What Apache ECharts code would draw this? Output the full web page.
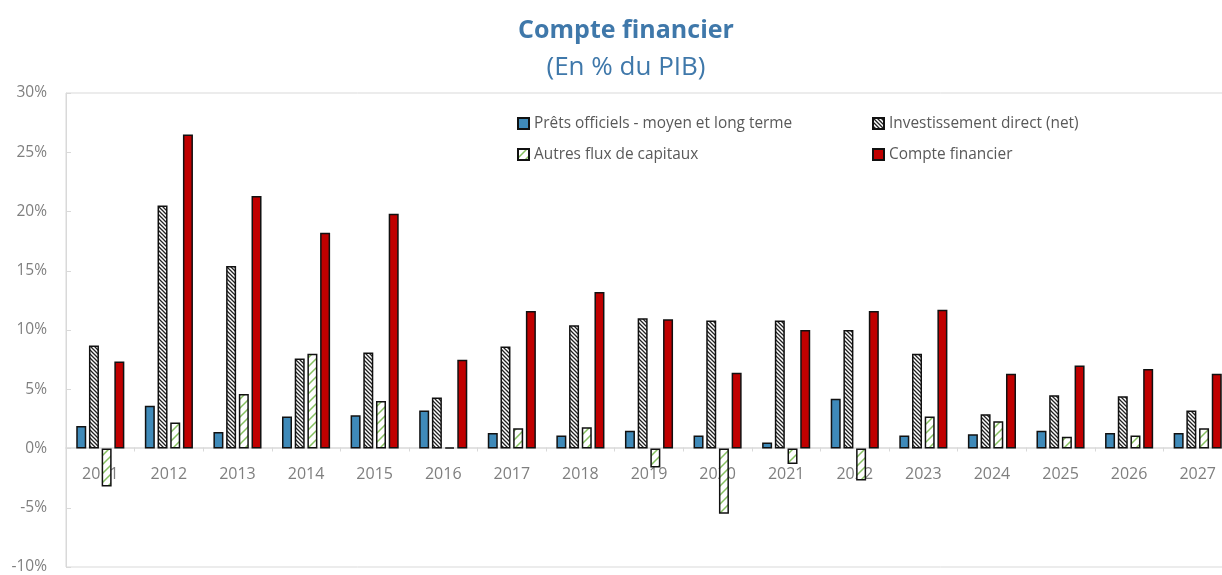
<!DOCTYPE html>
<html>
<head>
<meta charset="utf-8">
<script src="https://cdn.jsdelivr.net/npm/echarts@6/dist/echarts.min.js"></script>
<style>
html,body{margin:0;padding:0;overflow:hidden;background:#fff;}
#c{width:1232px;height:575px;}
</style>
</head>
<body>
<div id="c"></div>
<script>
var years = ['2011','2012','2013','2014','2015','2016','2017','2018','2019','2020','2021','2022','2023','2024','2025','2026','2027'];
var pretsOfficiels = [1.9,3.6,1.4,2.7,2.8,3.2,1.3,1.1,1.5,1.1,0.5,4.2,1.1,1.2,1.5,1.3,1.3];
var investDirect = [8.7,20.5,15.4,7.6,8.1,4.3,8.6,10.4,11.0,10.8,10.8,10.0,8.0,2.9,4.5,4.4,3.2];
var autresFlux = [-3.2,2.2,4.6,8.0,4.0,0.1,1.7,1.8,-1.6,-5.5,-1.3,-2.7,2.7,2.3,1.0,1.1,1.7];
var compteFinancier = [7.35,26.5,21.3,18.2,19.8,7.5,11.6,13.2,10.9,6.4,10.0,11.6,11.7,6.3,7.0,6.7,6.3];
var yTicks = {min:-10, max:30, interval:5};
var seriesNames = ['Prêts officiels - moyen et long terme','Investissement direct (net)','Autres flux de capitaux','Compte financier'];

function hatch(size, color, lw, dir, bg){
  var c = document.createElement('canvas');
  c.width = size; c.height = size;
  var g = c.getContext('2d');
  g.fillStyle = bg; g.fillRect(0,0,size,size);
  g.strokeStyle = color; g.lineWidth = lw;
  g.beginPath();
  if (dir === 'back') {
    g.moveTo(-1,-1); g.lineTo(size+1,size+1);
    g.moveTo(-1,size-1); g.lineTo(1,size+1);
    g.moveTo(size-1,-1); g.lineTo(size+1,1);
  } else {
    g.moveTo(-1,size+1); g.lineTo(size+1,-1);
    g.moveTo(-1,1); g.lineTo(1,-1);
    g.moveTo(size-1,size+1); g.lineTo(size+1,size-1);
  }
  g.stroke();
  return {image:c, repeat:'repeat'};
}
var blackHatch = hatch(4,'#222',1.3,'back','#ffffff');
var greenHatch = hatch(9,'#86c060',1.5,'fwd','#ffffff');

var gridTop = 93, gridBottom = 4, chartH = 575;
var plotH = chartH - gridTop - gridBottom;
var zeroFromBottom = plotH * (0 - yTicks.min) / (yTicks.max - yTicks.min);

var chart = echarts.init(document.getElementById('c'));
var border = {borderColor:'#111', borderWidth:1.5};
function legendAt(name, left, top){
  return {data:[name], left:left, top:top, itemWidth:11, itemHeight:11, itemGap:4,
    icon:'rect', textStyle:{color:'#595959', fontSize:15.4, fontFamily:'Open Sans'}, selectedMode:false};
}
chart.setOption({
  animation:false,
  title:[
    {text:'Compte financier', left:621, top:13, textAlign:'center',
      textStyle:{color:'#3f78aa', fontSize:25, fontWeight:'bold', fontFamily:'Open Sans'}},
    {text:'(En % du PIB)', left:621, top:50, textAlign:'center',
      textStyle:{color:'#3f78aa', fontSize:26, fontWeight:'normal', fontFamily:'Open Sans'}}
  ],
  legend:[
    legendAt(seriesNames[0], 512, 111),
    legendAt(seriesNames[1], 867, 111),
    legendAt(seriesNames[2], 512, 142),
    legendAt(seriesNames[3], 867, 142)
  ],
  grid:{left:66, right:0, top:gridTop, bottom:gridBottom, show:true, borderColor:'#d9d9d9', borderWidth:1},
  xAxis:{
    type:'category', data:years, position:'bottom', offset:-zeroFromBottom,
    axisLine:{onZero:false, lineStyle:{color:'#d9d9d9', width:1.5}},
    axisTick:{show:true, length:4, lineStyle:{color:'#d9d9d9'}},
    axisLabel:{color:'#7f7f7f', fontSize:16, margin:19, fontFamily:'Open Sans'}
  },
  yAxis:{
    type:'value', min:yTicks.min, max:yTicks.max, interval:yTicks.interval,
    axisLine:{show:true, lineStyle:{color:'#d9d9d9'}},
    axisTick:{show:true, inside:true, length:5, lineStyle:{color:'#d9d9d9'}},
    splitLine:{show:false},
    axisLabel:{formatter:'{value}%', color:'#7f7f7f', fontSize:15.5, margin:19, fontFamily:'Open Sans'}
  },
  series:[
    {name:seriesNames[0], type:'bar', data:pretsOfficiels, barWidth:10, barGap:'27%',
      itemStyle:Object.assign({color:'#3f8ab9'}, border)},
    {name:seriesNames[1], type:'bar', data:investDirect, barWidth:10, barGap:'27%',
      itemStyle:Object.assign({color:blackHatch}, border)},
    {name:seriesNames[2], type:'bar', data:autresFlux, barWidth:10, barGap:'27%',
      itemStyle:Object.assign({color:greenHatch}, border)},
    {name:seriesNames[3], type:'bar', data:compteFinancier, barWidth:10, barGap:'27%',
      itemStyle:Object.assign({color:'#c00000'}, border)}
  ]
});
</script>
</body>
</html>
